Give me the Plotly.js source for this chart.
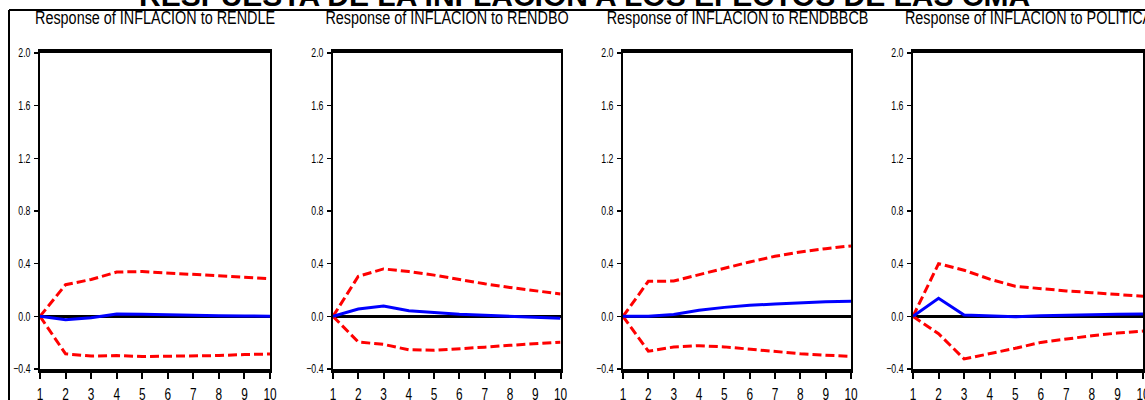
<!DOCTYPE html>
<html>
<head>
<meta charset="utf-8">
<script src="https://cdn.plot.ly/plotly-3.0.1.min.js"></script>
<style>html,body{margin:0;padding:0;background:#fff;}#chart{width:1145px;height:400px;}</style>
</head>
<body>
<div id="chart"></div>
<script>
// ---- data ----
const periods = [1, 2, 3, 4, 5, 6, 7, 8, 9, 10];
const mainTitle = "RESPUESTA DE LA INFLACION A LOS EFECTOS DE LAS CMA";
const panelTitles = [
  "Response of INFLACION to RENDLE",
  "Response of INFLACION to RENDBO",
  "Response of INFLACION to RENDBBCB",
  "Response of INFLACION to POLITICA"
];
const yTickVals = [-0.4, 0.0, 0.4, 0.8, 1.2, 1.6, 2.0];

const rendleResp  = [0, -0.025, -0.01, 0.017, 0.015, 0.01, 0.005, 0.005, 0.003, 0.0];
const rendleUpper = [0, 0.24, 0.28, 0.336, 0.34, 0.33, 0.32, 0.31, 0.296, 0.286];
const rendleLower = [0, -0.285, -0.302, -0.298, -0.305, -0.303, -0.3, -0.298, -0.29, -0.286];

const rendboResp  = [0, 0.056, 0.078, 0.043, 0.03, 0.016, 0.008, 0.0, -0.008, -0.015];
const rendboUpper = [0, 0.304, 0.36, 0.34, 0.313, 0.278, 0.247, 0.219, 0.194, 0.17];
const rendboLower = [0, -0.195, -0.213, -0.254, -0.258, -0.248, -0.234, -0.22, -0.208, -0.196];

const rendbbcbResp  = [0, 0.0, 0.014, 0.046, 0.068, 0.084, 0.094, 0.104, 0.11, 0.115];
const rendbbcbUpper = [0, 0.266, 0.268, 0.317, 0.368, 0.413, 0.456, 0.489, 0.514, 0.535];
const rendbbcbLower = [0, -0.265, -0.233, -0.223, -0.232, -0.249, -0.269, -0.284, -0.295, -0.304];

const politicaResp  = [0, 0.137, 0.01, 0.005, -0.004, 0.005, 0.01, 0.012, 0.015, 0.018];
const politicaUpper = [0, 0.4, 0.35, 0.283, 0.228, 0.21, 0.193, 0.18, 0.167, 0.152];
const politicaLower = [0, -0.132, -0.324, -0.284, -0.243, -0.198, -0.17, -0.147, -0.127, -0.112];

// ---- build ----
const panels = [
  [rendleResp, rendleUpper, rendleLower],
  [rendboResp, rendboUpper, rendboLower],
  [rendbbcbResp, rendbbcbUpper, rendbbcbLower],
  [politicaResp, politicaUpper, politicaLower]
];
const W = 1145, H = 400;
const xPix = [[40, 270], [333, 560.5], [623, 851], [913, 1143]];
const yDom = [(H - 369) / H, (H - 53) / H];
const fam = '"Liberation Sans", Arial, sans-serif';

const traces = [];
const layout = {
  width: W, height: H,
  margin: {l: 0, r: 0, t: 0, b: 0},
  paper_bgcolor: '#fff', plot_bgcolor: '#fff',
  showlegend: false,
  annotations: [],
  shapes: []
};

panels.forEach((p, i) => {
  const n = i === 0 ? '' : String(i + 1);
  const xa = 'x' + n, ya = 'y' + n;
  const red = {color: '#ff0000', width: 3, dash: '9px,4px'};
  traces.push({x: periods, y: p[1], xaxis: xa, yaxis: ya, mode: 'lines', line: red, hoverinfo: 'skip'});
  traces.push({x: periods, y: p[2], xaxis: xa, yaxis: ya, mode: 'lines', line: red, hoverinfo: 'skip'});
  traces.push({x: periods, y: p[0], xaxis: xa, yaxis: ya, mode: 'lines', line: {color: '#0000ff', width: 3}, hoverinfo: 'skip'});

  layout['xaxis' + n] = {
    domain: [xPix[i][0] / W, xPix[i][1] / W],
    anchor: ya,
    range: [1, 10],
    tickvals: periods,
    ticks: 'outside', ticklen: 6, tickwidth: 2, tickcolor: '#000',
    showline: true, linewidth: 4, linecolor: '#000', mirror: true,
    showgrid: false, zeroline: false,
    tickfont: {family: fam, size: 16, color: '#000'},
    ticklabelstandoff: 2,
    ticklabeloverflow: 'allow',
    fixedrange: true
  };
  layout['yaxis' + n] = {
    domain: yDom,
    anchor: xa,
    range: [-0.4, 2.0],
    tickvals: yTickVals,
    tickformat: '.1f',
    ticks: 'outside', ticklen: 4, tickwidth: 1.5, tickcolor: '#000',
    showline: true, linewidth: 2, linecolor: '#000', mirror: true,
    showgrid: false,
    zeroline: true, zerolinecolor: '#000', zerolinewidth: 2.5,
    tickfont: {family: fam, size: 12.5, color: '#000'},
    ticklabelstandoff: 1,
    ticklabeloverflow: 'allow',
    fixedrange: true
  };
  layout.annotations.push({
    text: panelTitles[i],
    xref: 'paper', yref: 'paper',
    x: (xPix[i][0] + xPix[i][1]) / 2 / W, y: (H - 18) / H,
    xanchor: 'center', yanchor: 'middle',
    showarrow: false,
    font: {family: fam, size: 18, color: '#000'}
  });
});

layout.annotations.push({
  text: '<b>' + mainTitle + '</b>',
  xref: 'paper', yref: 'paper',
  x: 584 / W, y: (H + 5) / H,
  xanchor: 'center', yanchor: 'middle',
  showarrow: false,
  font: {family: fam, size: 30, color: '#000'}
});

layout.shapes.push({type: 'line', xref: 'paper', yref: 'paper', x0: 9 / W, x1: 1, y0: (H - 10) / H, y1: (H - 10) / H, line: {color: '#000', width: 2}});
layout.shapes.push({type: 'line', xref: 'paper', yref: 'paper', x0: 9 / W, x1: 9 / W, y0: 0, y1: (H - 10) / H, line: {color: '#000', width: 2}});

// horizontally condense text (idempotent), mimicking the narrow font of the original
function condense(el, s) {
  let orig = el.getAttribute('data-origlen');
  if (!orig) {
    orig = String(el.getComputedTextLength());
    el.setAttribute('data-origlen', orig);
  }
  el.setAttribute('lengthAdjust', 'spacingAndGlyphs');
  el.setAttribute('textLength', (parseFloat(orig) * s).toFixed(2));
}
function condenseAll() {
  document.querySelectorAll('.annotation-text').forEach(function (t) {
    if (t.textContent.indexOf('RESPUESTA') < 0) condense(t, 0.8);
  });
  document.querySelectorAll('.yaxislayer-above text').forEach(function (t) { condense(t, 0.7); });
  document.querySelectorAll('.xaxislayer-above text').forEach(function (t) { condense(t, 0.74); });
}

Plotly.newPlot('chart', traces, layout, {displayModeBar: false, staticPlot: true}).then(function () {
  condenseAll();
  setTimeout(condenseAll, 50);
});
</script>
</body>
</html>
